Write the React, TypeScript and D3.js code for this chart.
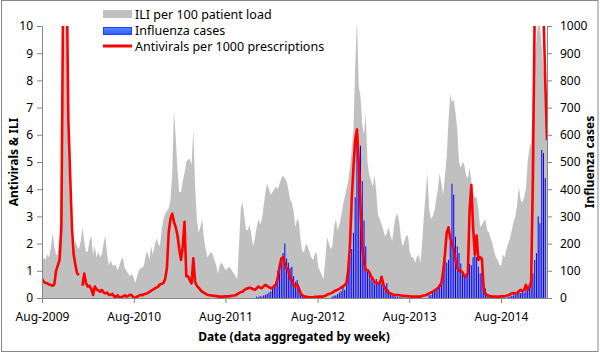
import React, { useEffect, useRef } from "react";
import * as d3 from "d3";

const width = 600;
const height = 354;
const plot = { left: 42, right: 547, top: 26, bottom: 298 };

// first week of the series, one value per week after that
const firstWeek = new Date(Date.UTC(2009, 7, 1));
const tickYears = [2009, 2010, 2011, 2012, 2013, 2014];
const leftTicks = [0, 1, 2, 3, 4, 5, 6, 7, 8, 9, 10];
const rightTicks = [0, 100, 200, 300, 400, 500, 600, 700, 800, 900, 1000];

// ILI per 100 patient load (left axis)
const iliPer100 = [
  1.3, 1.5, 1.4, 1.6, 1.5, 1.8, 2.4, 1.9, 1.6, 1.6,
  2.2, 4.5, 7.5, 10.5, 9.0, 5.5, 3.0, 2.1, 1.8, 2.1,
  1.9, 1.8, 2.1, 2.6, 2.1, 1.7, 1.7, 2.1, 2.3, 1.6,
  1.9, 1.5, 1.7, 1.5, 1.6, 2.0, 2.3, 1.6, 1.2, 1.4,
  1.2, 1.2, 1.2, 1.0, 1.2, 1.4, 1.5, 1.1, 1.0, 0.9,
  0.8, 0.9, 0.75, 0.55, 0.8, 1.0, 1.1, 1.1, 1.2, 1.6,
  1.7, 1.4, 1.9, 1.6, 1.9, 2.2, 2.0, 1.9, 2.5, 2.9,
  3.1, 3.2, 3.3, 3.6, 4.6, 6.9, 5.9, 4.7, 3.9, 3.9,
  4.3, 4.6, 5.0, 5.1, 5.1, 4.9, 6.2, 4.1, 2.9, 2.4,
  2.6, 2.9, 2.2, 1.8, 1.5, 1.6, 1.7, 1.6, 1.4, 1.2,
  0.9, 1.2, 1.3, 1.2, 1.05, 1.05, 1.15, 1.1, 1.0, 0.9,
  0.8, 0.7, 2.0, 3.3, 3.5, 3.0, 2.5, 2.5, 2.7, 2.3,
  1.9, 2.2, 2.6, 2.9, 2.7, 2.9, 3.4, 3.9, 4.2, 4.0,
  3.8, 3.9, 4.0, 4.1, 4.0, 4.2, 4.4, 4.5, 4.4, 4.3,
  4.0, 3.6, 3.5, 3.2, 2.6, 2.9, 2.8, 2.1, 1.7, 1.7,
  2.0, 1.9, 1.7, 1.5, 1.4, 1.6, 1.7, 1.15, 1.0, 0.85,
  0.7, 1.4, 2.25, 2.0, 1.8, 1.9, 2.6, 2.9, 2.5, 2.7,
  3.0, 3.4, 3.7, 4.0, 4.3, 4.8, 5.4, 6.2, 8.5, 10.3,
  7.8, 7.4, 6.4, 6.0, 6.8, 5.0, 4.5, 4.3, 4.1, 4.5,
  3.9, 3.0, 2.9, 2.7, 2.5, 2.25, 2.4, 2.6, 2.3, 2.1,
  2.6, 3.0, 3.1, 2.8, 2.2, 1.9, 2.1, 2.3, 2.3, 1.7,
  1.5, 1.5, 1.3, 1.5, 1.6, 1.3, 2.0, 3.0, 3.8, 4.6,
  3.3, 2.9, 3.0, 3.2, 3.6, 4.0, 4.6, 4.2, 3.8, 4.5,
  5.2, 6.5, 7.5, 7.2, 7.3, 6.8, 6.2, 5.0, 4.8, 5.0,
  4.9, 4.5, 4.4, 4.8, 4.3, 3.8, 3.7, 3.7, 3.3, 2.6,
  2.7, 2.8, 2.9, 2.5, 2.4, 2.2, 2.0, 1.7, 1.5, 1.4,
  1.2, 1.2, 1.6, 1.5, 1.8, 2.0, 2.2, 2.5, 2.8, 3.0,
  3.4, 4.1, 3.6, 3.5, 3.7, 4.0, 5.0, 5.5, 5.7, 7.5,
  8.7, 9.5, 10.2, 10.0, 9.2, 8.4, 8.0, 7.5,
];

// Antivirals per 1000 prescriptions (left axis), null = missing week
const antiviralsPer1000 = [
  0.7, 0.6, 0.55, 0.54, 0.5, 0.48, 0.45, 0.5, 1.0, 1.2,
  1.4, 2.6, 11, 14, 12, 6.5, 4.5, 2.6, 1.6, 1.2,
  0.9, 0.85, null, 0.45, 0.9, 0.55, 0.42, 0.45, 0.33, 0.11,
  0.42, 0.32, 0.28, 0.23, 0.3, 0.2, 0.17, 0.2, 0.12, 0.11,
  0.15, 0.06, 0.05, 0.1, 0.02, 0.03, 0.06, 0.1, 0.05, 0.08,
  0.12, 0.1, 0.02, 0.0, 0.05, 0.08, 0.12, 0.1, 0.14, 0.16,
  0.18, 0.22, 0.27, 0.3, 0.35, 0.38, 0.42, 0.5, 0.52, 0.55,
  0.7, 1.1, 2.4, 2.9, 3.1, 2.8, 2.6, 2.3, 1.8, 1.4,
  1.9, 2.8, 0.8, 0.8, 0.65, 0.54, 1.46, 0.6, 0.45, 0.38,
  0.3, 0.23, 0.2, 0.15, 0.12, 0.1, 0.1, 0.08, 0.08, 0.07,
  0.06, 0.05, 0.05, 0.05, 0.06, 0.06, 0.06, 0.07, 0.08, 0.09,
  0.1, 0.14, 0.18, 0.22, 0.23, 0.3, 0.33, 0.36, 0.38, 0.36,
  0.32, 0.3, 0.36, 0.42, 0.38, 0.36, 0.44, 0.48, 0.44, 0.4,
  0.36, 0.36, 0.45, 0.5, 0.75, 1.15, 1.45, 1.5, 1.2, 1.1,
  1.03, 0.72, 0.66, 0.45, 0.45, 0.5, 0.35, 0.17, 0.1, 0.06,
  0.05, 0.04, 0.03, 0.03, 0.03, 0.04, 0.04, 0.05, 0.05, 0.05,
  0.06, 0.08, 0.12, 0.15, 0.17, 0.2, 0.24, 0.28, 0.3, 0.34,
  0.38, 0.42, 0.48, 0.54, 1.0, 1.9, 3.6, 4.8, 5.8, 6.2,
  5.0, 3.3, 1.9, 1.3, 1.03, 1.03, 0.95, 0.8, 0.7, 0.58,
  0.54, 0.54, 0.55, 0.78, 0.5, 0.36, 0.28, 0.2, 0.17, 0.14,
  0.12, 0.11, 0.11, 0.1, 0.09, 0.08, 0.07, 0.07, 0.06, 0.06,
  0.05, 0.05, 0.05, 0.05, 0.05, 0.05, 0.07, 0.09, 0.1, 0.13,
  0.17, 0.2, 0.23, 0.27, 0.32, 0.36, 0.45, 0.54, 1.0, 1.6,
  2.4, 2.6, 2.2, 2.0, 1.8, 1.4, 1.1, 1.0, 1.0, 0.95,
  0.8, 0.8, 0.9, 3.2, 4.15, 2.6, 1.6, 2.3, 1.4, 1.5,
  1.45, 0.35, 0.15, 0.11, 0.08, 0.06, 0.05, 0.05, 0.05, 0.05,
  0.05, 0.06, 0.06, 0.06, 0.08, 0.1, 0.13, 0.17, 0.18, 0.17,
  0.18, 0.25, 0.3, 0.25, 0.3, 0.48, 0.3, 0.4, 0.6, 4.5,
  10.5, 13, 15, 15, 13, 10.5, 8, 5.8,
];

// Influenza cases (right axis)
const influenzaCases = [
  0, 0, 0, 0, 0, 0, 0, 0, 0, 0,
  0, 0, 0, 0, 0, 0, 0, 0, 0, 0,
  0, 0, 0, 0, 0, 0, 0, 0, 0, 0,
  0, 0, 0, 0, 0, 0, 0, 0, 0, 0,
  0, 0, 0, 0, 0, 0, 0, 0, 0, 0,
  0, 0, 0, 0, 0, 0, 0, 0, 0, 0,
  0, 0, 0, 0, 0, 0, 0, 0, 0, 0,
  0, 0, 0, 0, 0, 0, 0, 0, 0, 0,
  0, 0, 0, 0, 0, 0, 0, 0, 0, 0,
  0, 0, 0, 0, 0, 0, 0, 0, 0, 0,
  0, 0, 0, 0, 0, 0, 0, 0, 0, 0,
  0, 0, 0, 0, 0, 0, 0, 0, 0, 0,
  0, 0, 5, 3, 8, 5, 10, 12, 15, 20,
  25, 35, 45, 60, 100, 110, 130, 165, 200, 145,
  130, 110, 115, 80, 60, 66, 40, 20, 10, 5,
  3, 2, 0, 0, 0, 0, 0, 0, 0, 0,
  0, 0, 0, 0, 0, 5, 8, 10, 15, 20,
  25, 40, 30, 50, 100, 150, 180, 240, 370, 590,
  520, 560, 430, 285, 190, 100, 90, 70, 60, 50,
  70, 60, 65, 50, 60, 40, 55, 30, 20, 10,
  8, 5, 5, 3, 3, 2, 0, 0, 0, 0,
  0, 0, 0, 0, 0, 0, 0, 0, 0, 0,
  10, 12, 20, 25, 30, 40, 50, 66, 100, 140,
  130, 140, 210, 420, 380, 225, 190, 165, 127, 90,
  78, 90, 110, 125, 120, 150, 164, 150, 115, 90,
  95, 60, 35, 15, 8, 3, 0, 0, 0, 0,
  0, 0, 0, 0, 0, 3, 5, 8, 10, 12,
  15, 20, 18, 25, 20, 30, 30, 42, 60, 90,
  140, 165, 300, 275, 544, 533, 441, 0,
];

const legendItems = [
  "ILI per 100 patient load",
  "Influenza cases",
  "Antivirals per 1000 prescriptions",
];

const font = "'Noto Sans', sans-serif";
const axisGrey = "#868686";

export default function App() {
  const xAxisRef = useRef<SVGGElement>(null);
  const yAxisRef = useRef<SVGGElement>(null);
  const y2AxisRef = useRef<SVGGElement>(null);

  const weeks = iliPer100.map((_, i) => d3.utcDay.offset(firstWeek, 7 * i));
  const x = d3
    .scaleUtc()
    .domain([weeks[0], weeks[weeks.length - 1]])
    .range([plot.left, plot.right]);
  const y = d3.scaleLinear().domain([0, 10]).range([plot.bottom, plot.top]);
  const y2 = d3.scaleLinear().domain([0, 1000]).range([plot.bottom, plot.top]);

  const area = d3
    .area<number>()
    .x((_, i) => x(weeks[i]))
    .y0(y(0))
    .y1((d) => y(d));
  const line = d3
    .line<number | null>()
    .defined((d) => d != null)
    .x((_, i) => x(weeks[i]))
    .y((d) => y(d as number));

  useEffect(() => {
    const style = (g: d3.Selection<SVGGElement, unknown, null, undefined>) => {
      g.select(".domain").attr("stroke", axisGrey);
      g.selectAll(".tick line").attr("stroke", axisGrey);
      g.selectAll(".tick text")
        .attr("fill", "#000")
        .style("font-family", font)
        .style("font-size", "12px");
    };
    const xAxis = d3
      .axisBottom(x)
      .tickValues(tickYears.map((yr) => new Date(Date.UTC(yr, 7, 1))))
      .tickFormat((d) => d3.utcFormat("%b-%Y")(d as Date))
      .tickSizeInner(5)
      .tickSizeOuter(0)
      .tickPadding(9);
    d3.select(xAxisRef.current!).call(xAxis).call(style);

    const yAxis = d3.axisLeft(y).tickValues(leftTicks).tickSizeOuter(0).tickSize(5).tickPadding(4);
    d3.select(yAxisRef.current!).call(yAxis).call(style);

    const y2Axis = d3
      .axisRight(y2)
      .tickValues(rightTicks)
      .tickFormat(d3.format("d"))
      .tickSizeOuter(0)
      .tickSize(5)
      .tickPadding(8);
    d3.select(y2AxisRef.current!).call(y2Axis).call(style);
  }, []);

  return (
    <svg
      width={width}
      height={height}
      style={{ position: "absolute", left: 0, top: 0, background: "#fff" }}
      fontFamily={font}
    >
      <defs>
        <clipPath id="plotClip">
          <rect x={plot.left} y={plot.top} width={plot.right - plot.left} height={plot.bottom - plot.top + 3} />
        </clipPath>
        <clipPath id="areaClip">
          <rect x={plot.left} y={plot.top} width={plot.right - plot.left} height={plot.bottom - plot.top} />
        </clipPath>
        <filter id="soft" x="-2%" y="-2%" width="104%" height="104%">
          <feGaussianBlur stdDeviation="0.6" />
        </filter>
        <linearGradient id="blueSwatch" x1="0" y1="0" x2="0" y2="1">
          <stop offset="0" stopColor="#5a86ff" />
          <stop offset="1" stopColor="#2b5cff" />
        </linearGradient>
      </defs>

      <rect x={1.5} y={0.5} width={596.5} height={351} fill="#fff" stroke={axisGrey} />

      <g clipPath="url(#areaClip)">
        <path d={area(iliPer100) ?? ""} fill="#c0c0c0" filter="url(#soft)" />
      </g>

      <g>
        {influenzaCases.map((d, i) =>
          d > 0 ? (
            <rect
              key={i}
              x={x(weeks[i]) - 0.5}
              y={y2(d)}
              width={1}
              height={y2(0) - y2(d)}
              fill="#0000ff"
            />
          ) : null
        )}
      </g>

      <g clipPath="url(#plotClip)">
        <path
          d={line(antiviralsPer1000) ?? ""}
          fill="none"
          stroke="#ff0000"
          strokeWidth={2.6}
          strokeLinejoin="round"
        />
      </g>

      <g ref={xAxisRef} transform={`translate(0, ${plot.bottom})`} />
      <g ref={yAxisRef} transform={`translate(${plot.left}, 0)`} />
      <g ref={y2AxisRef} transform={`translate(${plot.right}, 0)`} />

      <text
        transform={`translate(18, ${(plot.top + plot.bottom) / 2}) rotate(-90)`}
        textAnchor="middle"
        fontSize={12}
        fontWeight="bold"
      >
        Antivirals &amp; ILI
      </text>
      <text
        transform={`translate(594, ${(plot.top + plot.bottom) / 2}) rotate(-90)`}
        textAnchor="middle"
        fontSize={12}
        fontWeight="bold"
      >
        Influenza cases
      </text>
      <text x={294} y={341} textAnchor="middle" fontSize={12} fontWeight="bold">
        Date (data aggregated by week)
      </text>

      <g>
        <rect x={103} y={10} width={29} height={8} fill="#c0c0c0" />
        <rect x={103.5} y={27.5} width={28} height={7} fill="url(#blueSwatch)" stroke="#1f3fff" />
        <line x1={103} x2={132} y1={46} y2={46} stroke="#ff0000" strokeWidth={3} />
        {legendItems.map((t, i) => (
          <text key={t} x={135} y={18.5 + i * 16} fontSize={12.5} fill="#000">
            {t}
          </text>
        ))}
      </g>
    </svg>
  );
}
